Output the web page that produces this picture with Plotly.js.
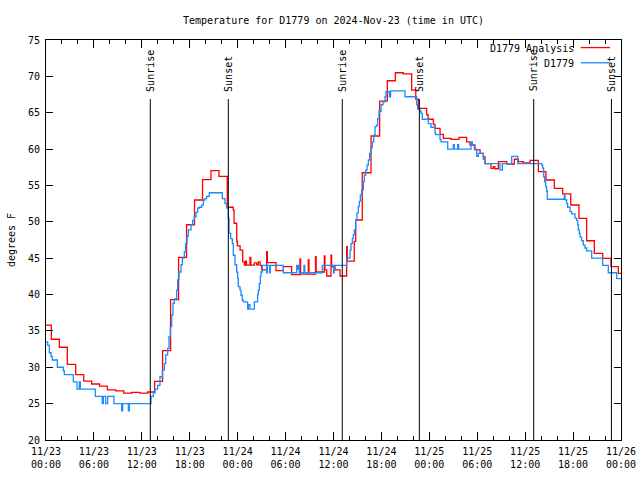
<!DOCTYPE html>
<html>
<head>
<meta charset="utf-8">
<script src="https://cdn.plot.ly/plotly-3.0.1.min.js"></script>
<style>html,body{margin:0;padding:0;background:#fff;}#chart{width:640px;height:480px;}</style>
</head>
<body>
<div id="chart"></div>
<script>
// Hours since 2024-11-23 00:00 UTC
const analysisHours = [0,0.67,1.67,2.67,3.72,4.72,5.72,6.72,7.68,8.72,9.73,10.73,11.73,12.73,13.6,14.6,15.6,16.6,17.6,18.6,19.6,20.66,21.66,22.7,23.45,23.55,23.88,23.96,24.3,24.63,24.85,25.0,25.1,25.54,25.65,26.09,26.38,26.59,26.8,27.0,27.63,27.72,28.8,29.72,30.76,31.8,31.88,32.85,32.93,33.75,33.83,34.85,34.93,35.15,35.69,35.77,36.19,36.82,37.65,37.72,38.6,38.78,39.6,40.7,41.78,42.74,43.74,44.74,45.79,46.3,46.62,47.67,47.85,48.5,48.71,49.34,49.75,50.71,51.72,52.68,53.09,53.72,54.35,54.76,54.97,55.72,56.0,56.2,56.64,57.69,58.64,59.14,59.77,60.61,61.65,62.6,63.65,64.7,65.7,66.74,67.7,68.66,69.71,70.75,71.67,72];
const analysisTemps = [35.8,33.85,32.75,30.4,29.0,28.1,27.7,27.4,26.9,26.75,26.45,26.55,26.45,26.6,28.05,32.3,39.3,45.1,49.6,53.0,55.8,57.05,56.25,52.0,51.6,49.8,47.3,46.7,46.1,44.5,44.05,44.6,44.05,45.1,44.05,44.35,44.1,44.5,44.0,43.4,45.9,44.4,43.3,43.85,42.75,44.9,42.8,44.8,42.8,45.2,43.1,45.3,43.4,42.55,45.4,43.85,43.4,42.55,46.6,44.6,47.3,50.25,56.75,61.8,66.6,69.4,70.5,70.35,68.1,66.85,65.6,64.7,64.1,63.4,62.86,62.03,61.48,61.34,61.62,61.0,60.56,59.88,59.4,58.96,58.0,57.36,57.6,57.3,58.27,57.95,58.6,58.27,58.1,58.45,56.9,55.75,54.6,53.83,52.31,50.48,47.4,45.67,44.98,43.85,42.92,42.92];

const obsHours = [0,0.21,0.42,0.63,0.79,1.42,2.17,2.3,3.42,3.88,4.17,4.3,6.18,7.05,7.18,7.47,7.72,8.51,9.47,9.6,10.31,10.43,13.15,13.44,13.65,13.98,14.27,14.57,14.82,14.98,15.23,15.4,15.57,15.74,15.9,16.07,16.36,16.49,16.65,16.9,17.07,17.32,17.49,17.66,17.82,18.16,18.37,18.57,18.78,18.99,19.2,19.49,19.7,19.91,20.12,20.45,22.08,22.41,22.62,22.83,22.92,23.12,23.33,23.46,23.67,23.87,24.0,24.08,24.29,24.42,24.58,24.71,25.25,25.34,25.54,26.09,26.5,26.59,26.71,26.84,26.92,27.09,27.63,27.72,28.0,28.08,29.72,31.39,31.5,31.6,31.7,32.3,32.4,34.6,36.0,36.1,37.65,38.07,38.19,38.36,38.48,38.6,38.78,38.94,39.11,39.23,39.36,39.53,39.74,39.86,40.03,40.2,40.36,40.53,40.7,40.86,41.03,41.2,41.41,41.53,41.7,41.95,42.2,42.45,42.57,43.0,43.15,44.95,46.41,46.54,46.83,46.96,47.12,47.87,48.21,48.71,48.79,49.34,49.46,50.3,51.0,51.13,51.55,51.67,53.22,53.38,53.63,53.93,54.14,54.76,54.97,56.85,57.14,58.31,59.06,62.07,62.19,62.32,62.44,62.57,62.69,62.77,64.9,64.99,65.07,65.2,65.32,65.62,65.82,66.24,66.45,66.57,66.65,66.78,66.87,67.07,67.28,67.49,67.7,68.33,69.7,70.41,71.46,72];
const obsTemps = [33.5,33.0,32.0,31.5,31.0,30.0,29.5,29.0,28.0,27.0,28.0,27.0,26.0,25.0,26.0,25.0,26.0,25.0,24.0,25.0,24.0,25.0,26.0,26.5,27.0,27.5,28.7,29.6,30.5,31.7,32.6,34.2,35.6,37.2,38.8,39.4,40.6,42.0,43.1,44.1,45.0,45.9,47.0,48.0,48.9,49.6,50.2,50.7,51.3,51.9,52.0,52.3,53.0,53.2,53.5,54.0,53.2,52.5,51.9,50.5,48.4,47.7,47.0,45.4,44.1,43.1,42.2,41.1,40.6,39.9,39.2,39.0,38.0,38.6,38.0,39.0,40.0,40.6,41.5,42.5,43.1,44.0,43.0,44.0,43.0,44.0,43.0,44.0,43.5,44.0,43.0,44.0,43.0,44.0,43.0,44.0,45.0,46.1,47.0,47.7,48.2,48.9,50.25,51.2,52.1,52.8,53.7,54.4,55.5,56.4,57.1,57.8,58.5,59.4,60.2,61.0,61.9,63.1,63.3,64.2,65.2,66.1,66.5,67.2,67.9,67.2,68.0,67.2,66.1,65.5,65.2,64.9,64.1,63.5,63.0,62.2,62.0,61.3,61.0,60.0,60.6,60.0,60.6,60.0,61.0,60.5,60.0,59.0,59.4,58.6,58.0,57.1,58.0,59.0,58.0,57.8,57.4,56.2,55.5,54.8,54.2,53.1,53.7,53.1,53.0,52.5,52.0,51.4,51.1,50.5,50.2,49.6,48.9,48.4,47.9,47.4,46.8,46.4,46.0,45.0,44.0,43.0,42.2,42.2];

const tickHours = [0,6,12,18,24,30,36,42,48,54,60,66,72];
const tickLabels = ['11/23<br>00:00','11/23<br>06:00','11/23<br>12:00','11/23<br>18:00','11/24<br>00:00','11/24<br>06:00','11/24<br>12:00','11/24<br>18:00','11/25<br>00:00','11/25<br>06:00','11/25<br>12:00','11/25<br>18:00','11/26<br>00:00'];

const sunHours = [13.06,22.83,37.1,46.75,61.07,70.8];
const sunLabels = ['Sunrise','Sunset','Sunrise','Sunset','Sunrise','Sunset'];

const seriesNames = ['D1779 Analysis','D1779'];
const seriesColors = ['#ff0000','#1a8cff'];

const FONT = 'DejaVu Sans Mono, Liberation Mono, monospace';

const minorVals = [];
for (let h = 0; h <= 72; h += 2) { if (h % 6 !== 0) minorVals.push(h); }

const traces = [
  {x: analysisHours, y: analysisTemps, type: 'scatter', mode: 'lines', name: seriesNames[0],
   line: {color: seriesColors[0], width: 1.3, shape: 'hv'}, hoverinfo: 'skip'},
  {x: obsHours, y: obsTemps, type: 'scatter', mode: 'lines', name: seriesNames[1],
   line: {color: seriesColors[1], width: 1.3, shape: 'hv'}, hoverinfo: 'skip'}
];

const shapes = [];
const annotations = [];
sunHours.forEach((h, i) => {
  shapes.push({type: 'line', xref: 'x', yref: 'paper', x0: h, x1: h, y0: 0, y1: 0.8525,
               line: {color: '#000', width: 1}});
  annotations.push({xref: 'x', yref: 'paper', x: h, y: 0.866, text: sunLabels[i], textangle: -90,
                    showarrow: false, xanchor: 'center', yanchor: 'bottom',
                    font: {family: FONT, size: 10, color: '#000'}});
});

// gnuplot-style key: text right-aligned, line sample to the right
const keyY = [0.979, 0.941];
seriesNames.forEach((n, i) => {
  annotations.push({xref: 'paper', yref: 'paper', x: 0.921, y: keyY[i], text: n, showarrow: false,
                    xanchor: 'right', yanchor: 'middle', font: {family: FONT, size: 10, color: '#000'}});
  shapes.push({type: 'line', xref: 'paper', yref: 'paper', x0: 0.930, x1: 0.981, y0: keyY[i] + 0.002, y1: keyY[i] + 0.002,
               line: {color: seriesColors[i], width: 1.3}});
});

const layout = {
  width: 640, height: 480,
  margin: {l: 46, r: 19, t: 40, b: 40, pad: 0},
  paper_bgcolor: '#fff', plot_bgcolor: '#fff',
  font: {family: FONT, size: 10, color: '#000'},
  showlegend: false,
  title: {text: 'Temperature for D1779 on 2024-Nov-23 (time in UTC)', x: 0.5, xref: 'paper',
          y: 1 - 20/480, yref: 'container', yanchor: 'middle', font: {family: FONT, size: 10, color: '#000'}},
  xaxis: {range: [0, 72], tickmode: 'array', tickvals: tickHours, ticktext: tickLabels,
          ticks: 'inside', ticklen: 8, tickcolor: '#000', tickwidth: 1,
          minor: {tickmode: 'array', tickvals: minorVals, ticks: 'inside', ticklen: 4, tickcolor: '#000', tickwidth: 1, showgrid: false},
          showline: true, linecolor: '#000', linewidth: 1, mirror: 'allticks',
          showgrid: false, zeroline: false, fixedrange: true, ticklabelstandoff: 2,
          tickfont: {family: FONT, size: 10, color: '#000'}},
  yaxis: {range: [20, 75], tickmode: 'linear', tick0: 20, dtick: 5,
          ticks: 'inside', ticklen: 7, tickcolor: '#000', tickwidth: 1,
          showline: true, linecolor: '#000', linewidth: 1, mirror: 'allticks',
          showgrid: false, zeroline: false, fixedrange: true, ticklabelstandoff: 3,
          tickfont: {family: FONT, size: 10, color: '#000'},
          title: {text: 'degrees F', standoff: 10, font: {family: FONT, size: 10, color: '#000'}}},
  shapes: shapes,
  annotations: annotations
};

Plotly.newPlot('chart', traces, layout, {displayModeBar: false, staticPlot: true});
</script>
</body>
</html>
